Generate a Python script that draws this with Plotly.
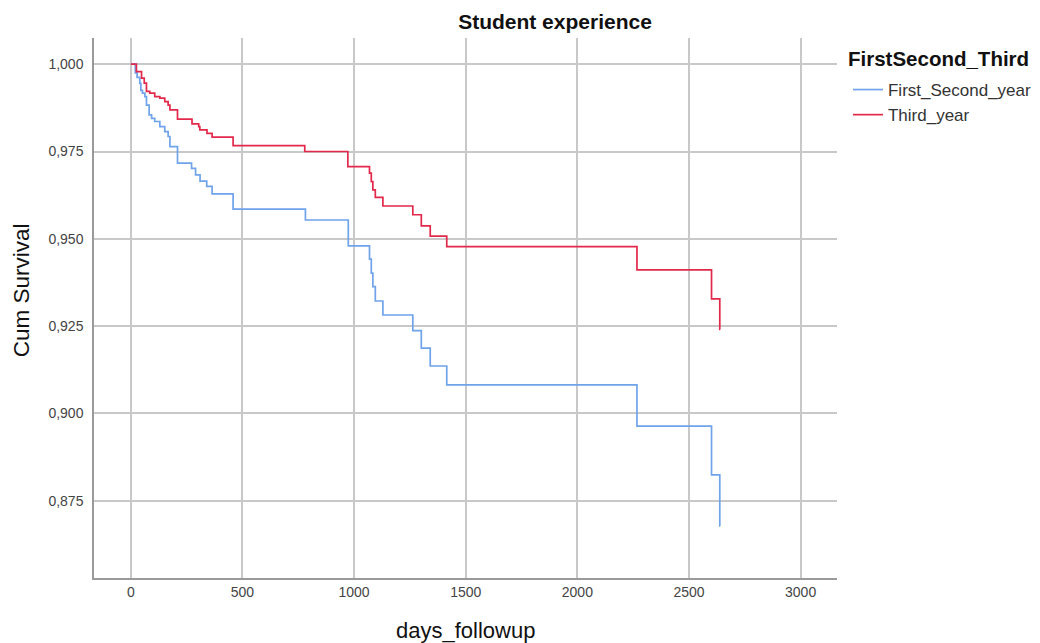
import plotly.graph_objects as go

# Kaplan-Meier step data (days, cumulative survival)
first_second_days = [0, 20, 28, 40, 45, 52, 63, 70, 82, 93, 107, 130, 152, 167, 175, 209, 272, 290, 310, 340, 364,
                     458, 782, 974, 1069, 1077, 1084, 1095, 1129, 1263, 1301, 1341, 1415, 2267, 2601, 2638, 2640]
first_second_surv = [1.0, 0.9975, 0.9962, 0.9945, 0.9925, 0.9917, 0.9907, 0.9883, 0.9855, 0.9845, 0.9836, 0.9821,
                     0.9807, 0.9793, 0.9764, 0.9717, 0.9702, 0.9683, 0.9665, 0.9650, 0.9629,
                     0.9585, 0.9554, 0.9480, 0.9442, 0.9402, 0.9363, 0.9322, 0.9282, 0.9237, 0.9187, 0.9136, 0.9082,
                     0.8964, 0.8824, 0.8678, 0.8678]

third_days = [0, 25, 48, 60, 70, 85, 107, 130, 152, 167, 175, 209, 274, 304, 309, 341, 364, 458, 779, 972,
              1069, 1077, 1084, 1095, 1129, 1263, 1301, 1341, 1415, 2267, 2601, 2638, 2640]
third_surv = [1.0, 0.9979, 0.9960, 0.9946, 0.9922, 0.9917, 0.9907, 0.9903, 0.9893, 0.9883, 0.9869, 0.9843,
              0.9829, 0.9821, 0.9812, 0.9802, 0.9791, 0.9767, 0.9750, 0.9707,
              0.9688, 0.9664, 0.9640, 0.9619, 0.9594, 0.9569, 0.9537, 0.9508, 0.9478, 0.9411, 0.9328, 0.9241, 0.9241]

x_ticks = [0, 500, 1000, 1500, 2000, 2500, 3000]
y_ticks = [0.875, 0.900, 0.925, 0.950, 0.975, 1.000]

BLUE = "#6FA3EA"
RED = "#E3294B"
FONT = "Liberation Sans, Arial, sans-serif"

# page offset (body margin) of 8 px is compensated in margins
fig = go.Figure()
fig.add_trace(go.Scatter(x=first_second_days, y=first_second_surv, mode="lines", name="First_Second_year",
                         line=dict(color=BLUE, width=1.7, shape="hv")))
fig.add_trace(go.Scatter(x=third_days, y=third_surv, mode="lines", name="Third_year",
                         line=dict(color=RED, width=1.7, shape="hv")))

fig.update_layout(
    width=1040, height=643,
    margin=dict(l=86, r=210, t=30, b=73),
    paper_bgcolor="white", plot_bgcolor="white",
    separators=",.",
    font=dict(family=FONT, color="#333333", size=14),
    title=dict(text="<b>Student experience</b>", x=547/1040, xref="container", xanchor="center",
               y=1 - 14/643, yref="container", yanchor="middle",
               font=dict(size=21, color="#111111", family=FONT)),
    legend=dict(x=1.0134, xanchor="left", y=(578 - 72) / 540, yanchor="top",
                font=dict(size=17, color="#333333"), itemwidth=30, tracegroupgap=0,
                bgcolor="rgba(0,0,0,0)"),
    xaxis=dict(range=[-165, 3163], tickvals=x_ticks, ticktext=[str(v) for v in x_ticks],
               showgrid=True, gridcolor="#C8C8C8", gridwidth=1.5, zeroline=False,
               showline=True, linecolor="#9A9A9A", linewidth=1.5, ticks="",
               tickfont=dict(size=14, color="#444444")),
    yaxis=dict(range=[0.8529, 1.0075], tickvals=y_ticks, tickformat=".3f",
               showgrid=True, gridcolor="#C8C8C8", gridwidth=1.5, zeroline=False,
               showline=True, linecolor="#9A9A9A", linewidth=1.5, ticks="",
               ticklabelstandoff=6, tickfont=dict(size=14, color="#444444")),
    annotations=[
        dict(text="<b>FirstSecond_Third</b>", xref="paper", yref="paper", x=(847 - 94) / 744,
             y=(578 - 58) / 540, xanchor="left", yanchor="middle", showarrow=False,
             font=dict(size=20.5, color="#111111", family=FONT)),
        dict(text="Cum Survival", xref="paper", yref="paper", x=-0.098, y=(578 - 290) / 540,
             xanchor="center", yanchor="middle", textangle=-90, showarrow=False,
             font=dict(size=22.5, color="#111111", family=FONT)),
        dict(text="days_followup", xref="paper", yref="paper", x=0.5, y=-(630 - 578) / 540,
             xanchor="center", yanchor="middle", showarrow=False,
             font=dict(size=22, color="#111111", family=FONT)),
    ],
)

fig.write_html("out.html")
